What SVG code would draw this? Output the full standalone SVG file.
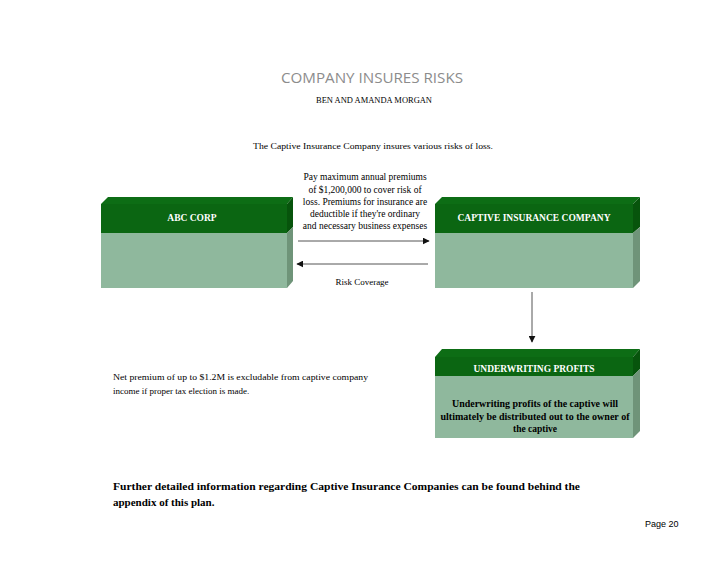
<svg xmlns="http://www.w3.org/2000/svg" width="728" height="563" viewBox="0 0 728 563">
<style>
.serif{font-family:"Liberation Serif","Times New Roman",serif;fill:#000}
.small{font-size:9px}
.prem{font-size:9.5px}
.hdr{font-family:"Liberation Serif","Times New Roman",serif;font-weight:bold;font-size:9.5px;fill:#fff}
.body{font-family:"Liberation Serif","Times New Roman",serif;font-weight:bold;font-size:9.5px;fill:#000}
.top{fill:#0d6d15}
.band{fill:#0b6612}
.sideTop{fill:#07540c}
.front{fill:#8fb89d}
.side{fill:#6f9479}
.line{stroke:#555;stroke-width:1;fill:none}
</style>
<defs>
<marker id="ah" viewBox="0 0 10 10" refX="9" refY="5" markerWidth="7" markerHeight="7" markerUnits="userSpaceOnUse" orient="auto">
<path d="M0,0 L10,5 L0,10 z" fill="#111"/>
</marker>
</defs>
<rect width="728" height="563" fill="#fff"/>

<text x="372" y="83" text-anchor="middle" font-family="'Open Sans','DejaVu Sans',sans-serif" font-size="14" fill="#8c8c8c" textLength="182" lengthAdjust="spacingAndGlyphs">COMPANY INSURES RISKS</text>
<text x="374" y="103" text-anchor="middle" class="serif" font-size="8" textLength="116" lengthAdjust="spacingAndGlyphs">BEN AND AMANDA MORGAN</text>
<text x="373" y="149" text-anchor="middle" class="serif small" textLength="240" lengthAdjust="spacingAndGlyphs">The Captive Insurance Company insures various risks of loss.</text>

<g id="abc-corp">
<polygon class="top" points="101,204 108,197 293,197 287,204"/>
<polygon class="sideTop" points="287,204 293,197 293,227 287,233"/>
<polygon class="side" points="287,233 293,227 293,281 287,288"/>
<rect class="band" x="101" y="204" width="186" height="29"/>
<rect class="front" x="101" y="233" width="186" height="55"/>
<text class="hdr" x="192" y="221" text-anchor="middle">ABC CORP</text>
</g>

<g id="captive">
<polygon class="top" points="435,204 442,197 640,197 633,204"/>
<polygon class="sideTop" points="633,204 640,197 640,227 633,233"/>
<polygon class="side" points="633,233 640,227 640,281 633,288"/>
<rect class="band" x="435" y="204" width="198" height="29"/>
<rect class="front" x="435" y="233" width="198" height="55"/>
<text class="hdr" x="534" y="221" text-anchor="middle" textLength="153" lengthAdjust="spacingAndGlyphs">CAPTIVE INSURANCE COMPANY</text>
</g>

<g id="underwriting">
<polygon class="top" points="435,357 442,349 640,349 633,357"/>
<polygon class="sideTop" points="633,357 640,349 640,369 633,376"/>
<polygon class="side" points="633,376 640,369 640,431 633,438"/>
<rect class="band" x="435" y="357" width="198" height="19"/>
<rect class="front" x="435" y="376" width="198" height="62"/>
<text class="hdr" x="534" y="372" text-anchor="middle" textLength="121" lengthAdjust="spacingAndGlyphs">UNDERWRITING PROFITS</text>
<text class="body" x="535" y="407" text-anchor="middle" textLength="166" lengthAdjust="spacingAndGlyphs">Underwriting profits of the captive will</text>
<text class="body" x="535" y="420" text-anchor="middle" textLength="189" lengthAdjust="spacingAndGlyphs">ultimately be distributed out to the owner of</text>
<text class="body" x="535" y="432" text-anchor="middle">the captive</text>
</g>

<g id="connectors">
<line class="line" x1="298" y1="241" x2="429" y2="241" marker-end="url(#ah)"/>
<line class="line" x1="428" y1="264" x2="297" y2="264" marker-end="url(#ah)"/>
<line class="line" x1="532" y1="292" x2="532" y2="342" marker-end="url(#ah)"/>
</g>

<g id="premium-label">
<text class="serif prem" x="365" y="180" text-anchor="middle">Pay maximum annual premiums</text>
<text class="serif prem" x="365" y="193" text-anchor="middle">of $1,200,000 to cover risk of</text>
<text class="serif prem" x="365" y="205" text-anchor="middle">loss. Premiums for insurance are</text>
<text class="serif prem" x="365" y="217" text-anchor="middle">deductible if they're ordinary</text>
<text class="serif prem" x="365" y="229" text-anchor="middle">and necessary business expenses</text>
</g>
<text class="serif small" x="362" y="285" text-anchor="middle">Risk Coverage</text>

<text class="serif small" x="113" y="380" textLength="255" lengthAdjust="spacingAndGlyphs">Net premium of up to $1.2M is excludable from captive company</text>
<text class="serif small" x="113" y="394">income if proper tax election is made.</text>

<text x="113" y="490" font-family="'Liberation Serif','Times New Roman',serif" font-weight="bold" font-size="11" fill="#000" textLength="467" lengthAdjust="spacingAndGlyphs">Further detailed information regarding Captive Insurance Companies can be found behind the</text>
<text x="113" y="506" font-family="'Liberation Serif','Times New Roman',serif" font-weight="bold" font-size="11" fill="#000">appendix of this plan.</text>

<text x="645" y="527" font-family="'Liberation Sans',Arial,sans-serif" font-size="9" fill="#000">Page 20</text>
</svg>
